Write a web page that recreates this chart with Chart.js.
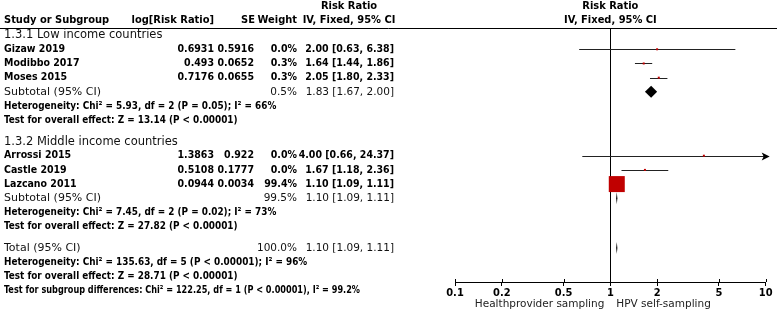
<!DOCTYPE html>
<html>
<head>
<meta charset="utf-8">
<title>Forest plot - HPV self-sampling</title>
<script src="https://cdn.jsdelivr.net/npm/chart.js@4.4.1/dist/chart.umd.min.js"></script>
<style>
    body { margin: 0; background: #fff; }
</style>
</head>
<body>
<canvas id="forest" width="777" height="320"></canvas>

<script>
// ---- data ----
const STUDIES = ['Gizaw 2019', 'Modibbo 2017', 'Moses 2015', 'Arrossi 2015', 'Castle 2019', 'Lazcano 2011'];
const LOG_RR = ['0.6931', '0.493', '0.7176', '1.3863', '0.5108', '0.0944'];
const SE = ['0.5916', '0.0652', '0.0655', '0.922', '0.1777', '0.0034'];
const WEIGHT = [0.0, 0.3, 0.3, 0.0, 0.0, 99.4];
const RR = [2.00, 1.64, 2.05, 4.00, 1.67, 1.10];
const RR_LO = [0.63, 1.44, 1.80, 0.66, 1.18, 1.09];
const RR_HI = [6.38, 1.86, 2.33, 24.37, 2.36, 1.11];
const STUDY_ROW = [1.5, 2.5, 3.5, 9, 10, 11];

const POOLED = ['Subtotal (95% CI)', 'Subtotal (95% CI)', 'Total (95% CI)'];
const POOLED_WEIGHT = [0.5, 99.5, 100.0];
const POOLED_RR = [1.83, 1.10, 1.10];
const POOLED_LO = [1.67, 1.09, 1.09];
const POOLED_HI = [2.00, 1.11, 1.11];
const POOLED_ROW = [4.5, 12, 15.5];

const GROUPS = ['1.3.1 Low income countries', '1.3.2 Middle income countries'];
const GROUP_ROW = [0.5, 8];

const NOTES = [
    'Heterogeneity: Chi\u00b2 = 5.93, df = 2 (P = 0.05); I\u00b2 = 66%',
    'Test for overall effect: Z = 13.14 (P < 0.00001)',
    'Heterogeneity: Chi\u00b2 = 7.45, df = 2 (P = 0.02); I\u00b2 = 73%',
    'Test for overall effect: Z = 27.82 (P < 0.00001)',
    'Heterogeneity: Chi\u00b2 = 135.63, df = 5 (P < 0.00001); I\u00b2 = 96%',
    'Test for overall effect: Z = 28.71 (P < 0.00001)',
    'Test for subgroup differences: Chi\u00b2 = 122.25, df = 1 (P < 0.00001), I\u00b2 = 99.2%'
];
const NOTE_ROW = [5.5, 6.5, 13, 14, 16.5, 17.5, 18.5];

const X_TICKS = [0.1, 0.2, 0.5, 1, 2, 5, 10];
const FAVOURS = ['Healthprovider sampling', 'HPV self-sampling'];

// ---- drawing helpers ----
const COND = '"DejaVu Sans Condensed", "DejaVu Sans", sans-serif';
const WIDE = '"DejaVu Sans", sans-serif';
const HEAD = 'bold 11px ' + COND;
const BOLD = 'bold 10.5px ' + COND;
const NOTE = 'bold 10.5px ' + COND;
const REG = '11px ' + WIDE;
const REG_SMALL = '10.5px ' + WIDE;
const GROUP = '11.5px ' + WIDE;

function txt(ctx, s, x, y, align, font, color, maxW) {
    ctx.font = font;
    ctx.fillStyle = color || '#000';
    ctx.textAlign = align;
    ctx.textBaseline = 'middle';
    if (maxW) ctx.fillText(s, x, y, maxW);
    else ctx.fillText(s, x, y);
}

function ciText(r, lo, hi) {
    return r.toFixed(2) + ' [' + lo.toFixed(2) + ', ' + hi.toFixed(2) + ']';
}

function markerRadius(w) {
    // square area ~ weight; 'rect' side = radius * sqrt(2)
    let side = Math.max(2, 16 * Math.sqrt(w / 99.4));
    return side / Math.SQRT2;
}

const forestPlugin = {
    id: 'forest',
    beforeDatasetsDraw(chart) {
        const ctx = chart.ctx, xs = chart.scales.x, ys = chart.scales.y, a = chart.chartArea;
        ctx.save();
        // header rule
        ctx.strokeStyle = '#000';
        ctx.lineWidth = 1;
        ctx.beginPath();
        ctx.moveTo(0, Math.round(a.top) + 0.5);
        ctx.lineTo(chart.width, Math.round(a.top) + 0.5);
        ctx.stroke();
        // line of no effect
        let x1 = Math.round(xs.getPixelForValue(1)) + 0.5;
        ctx.beginPath();
        ctx.moveTo(x1, a.top);
        ctx.lineTo(x1, a.bottom);
        ctx.stroke();
        // confidence intervals
        ctx.strokeStyle = '#222';
        for (let i = 0; i < STUDIES.length; i++) {
            let y = Math.round(ys.getPixelForValue(STUDY_ROW[i])) + 0.5;
            let l = xs.getPixelForValue(Math.max(RR_LO[i], xs.min));
            let h = xs.getPixelForValue(Math.min(RR_HI[i], xs.max));
            ctx.beginPath();
            ctx.moveTo(l, y);
            ctx.lineTo(h, y);
            ctx.stroke();
            if (RR_HI[i] > xs.max) {
                ctx.fillStyle = '#000';
                ctx.beginPath();
                ctx.moveTo(h + 4, y);
                ctx.lineTo(h - 4, y - 4);
                ctx.lineTo(h - 2, y);
                ctx.lineTo(h - 4, y + 4);
                ctx.closePath();
                ctx.fill();
            }
        }
        // ticks crossing the axis line
        ctx.strokeStyle = '#000';
        X_TICKS.forEach(v => {
            let x = Math.round(xs.getPixelForValue(v)) + 0.5;
            ctx.beginPath();
            ctx.moveTo(x, a.bottom - 3);
            ctx.lineTo(x, a.bottom);
            ctx.stroke();
        });
        ctx.restore();
    },
    afterDatasetsDraw(chart) {
        const ctx = chart.ctx, xs = chart.scales.x, ys = chart.scales.y, a = chart.chartArea;
        ctx.save();
        // pooled diamonds
        ctx.fillStyle = '#000';
        for (let i = 0; i < POOLED.length; i++) {
            let y = ys.getPixelForValue(POOLED_ROW[i]);
            let l = xs.getPixelForValue(POOLED_LO[i]);
            let m = xs.getPixelForValue(POOLED_RR[i]);
            let h = xs.getPixelForValue(POOLED_HI[i]);
            ctx.beginPath();
            ctx.moveTo(l, y);
            ctx.lineTo(m, y - 6);
            ctx.lineTo(h, y);
            ctx.lineTo(m, y + 6);
            ctx.closePath();
            ctx.fill();
        }

        // column headers
        txt(ctx, 'Study or Subgroup', 4, 20, 'left', HEAD);
        txt(ctx, 'log[Risk Ratio]', 214, 20, 'right', HEAD);
        txt(ctx, 'SE', 255, 20, 'right', HEAD);
        txt(ctx, 'Weight', 297, 20, 'right', HEAD);
        txt(ctx, 'Risk Ratio', 349, 6, 'center', HEAD);
        txt(ctx, 'IV, Fixed, 95% CI', 349, 20, 'center', HEAD);
        let xc = xs.getPixelForValue(1);
        txt(ctx, 'Risk Ratio', xc, 6, 'center', HEAD);
        txt(ctx, 'IV, Fixed, 95% CI', xc, 20, 'center', HEAD);

        // subgroup titles
        GROUPS.forEach((g, i) => txt(ctx, g, 4, ys.getPixelForValue(GROUP_ROW[i]), 'left', GROUP, '#111'));

        // study rows
        STUDIES.forEach((s, i) => {
            let y = ys.getPixelForValue(STUDY_ROW[i]);
            txt(ctx, s, 4, y, 'left', BOLD);
            txt(ctx, LOG_RR[i], 214, y, 'right', BOLD);
            txt(ctx, SE[i], 254, y, 'right', BOLD);
            txt(ctx, WEIGHT[i].toFixed(1) + '%', 297, y, 'right', BOLD);
            txt(ctx, ciText(RR[i], RR_LO[i], RR_HI[i]), 394, y, 'right', BOLD);
        });

        // pooled rows
        POOLED.forEach((s, i) => {
            let y = ys.getPixelForValue(POOLED_ROW[i]);
            txt(ctx, s, 4, y, 'left', REG, '#111');
            txt(ctx, POOLED_WEIGHT[i].toFixed(1) + '%', 297, y, 'right', REG_SMALL, '#111');
            txt(ctx, ciText(POOLED_RR[i], POOLED_LO[i], POOLED_HI[i]), 394, y, 'right', REG_SMALL, '#111');
        });

        // heterogeneity / tests (slightly condensed, as in the source figure)
        ctx.font = NOTE;
        NOTES.forEach((n, i) => {
            let w = Math.min(ctx.measureText(n).width * 0.94, 356);
            txt(ctx, n, 4, ys.getPixelForValue(NOTE_ROW[i]), 'left', NOTE, '#000', w);
        });

        // favours labels
        txt(ctx, FAVOURS[0], xc - 6, 304, 'right', REG_SMALL, '#222');
        txt(ctx, FAVOURS[1], xc + 6, 304, 'left', REG_SMALL, '#222');
        ctx.restore();
    }
};

new Chart(document.getElementById('forest'), {
    type: 'scatter',
    data: {
        datasets: [{
            data: STUDIES.map((s, i) => ({ x: RR[i], y: STUDY_ROW[i] })),
            pointStyle: 'rect',
            pointRadius: c => markerRadius(WEIGHT[c.dataIndex]),
            backgroundColor: '#c00000',
            borderWidth: 0
        }]
    },
    options: {
        responsive: false,
        animation: false,
        events: [],
        layout: { padding: { left: 455, right: 11, top: 28, bottom: 0 } },
        plugins: { legend: { display: false }, tooltip: { enabled: false } },
        scales: {
            x: {
                type: 'logarithmic',
                min: 0.1,
                max: 10,
                afterBuildTicks: s => { s.ticks = X_TICKS.map(v => ({ value: v })); },
                afterFit: s => { s.height = 38; },
                ticks: {
                    autoSkip: false,
                    maxRotation: 0,
                    padding: 1,
                    color: '#000',
                    font: { family: COND, size: 11, weight: 'bold' },
                    callback: v => String(v)
                },
                grid: { drawOnChartArea: false, tickLength: 4, color: '#000' },
                border: { color: '#000', width: 1 }
            },
            y: { display: false, min: 0, max: 17.9, reverse: true }
        },
        clip: false
    },
    plugins: [forestPlugin]
});
</script>
</body>
</html>
